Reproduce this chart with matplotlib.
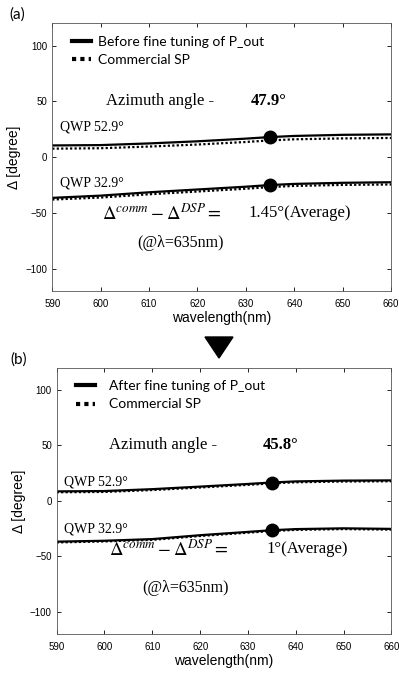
import numpy as np
import matplotlib
matplotlib.use("Agg")
import matplotlib.pyplot as plt
from matplotlib.patches import Polygon

plt.rcParams['mathtext.fontset'] = 'stix'

# wavelength samples (nm)
wl = [590, 600, 610, 620, 630, 635, 640, 650, 660]

# (a) before fine tuning
a_up_dsp = [10.5, 10.8, 12.3, 14.2, 16.6, 18.0, 19.0, 20.0, 20.4]
a_up_comm = [7.6, 8.0, 9.5, 11.3, 13.6, 15.0, 16.0, 16.8, 17.2]
a_lo_dsp = [-36.5, -34.5, -31.5, -29.0, -26.5, -25.0, -24.0, -23.0, -22.5]
a_lo_comm = [-38.0, -36.2, -33.3, -30.8, -28.3, -26.8, -25.8, -24.9, -24.5]

# (b) after fine tuning
b_up_dsp = [8.5, 8.8, 10.5, 12.8, 15.2, 16.5, 17.5, 18.2, 18.4]
b_up_comm = [7.7, 8.0, 9.7, 12.0, 14.4, 15.7, 16.7, 17.4, 17.6]
b_lo_dsp = [-36.8, -36.0, -34.5, -31.0, -28.0, -26.5, -25.5, -24.8, -25.3]
b_lo_comm = [-37.5, -36.6, -35.2, -31.7, -28.7, -27.2, -26.2, -25.5, -26.0]

mark_wl = 635
xticks = [590, 600, 610, 620, 630, 640, 650, 660]
yticks = [-100, -50, 0, 50, 100]

fig = plt.figure(figsize=(3.99, 6.73), dpi=100)
ax1 = fig.add_axes([0.131, 0.5676, 0.849, 0.3978])
ax2 = fig.add_axes([0.142, 0.058, 0.839, 0.3957])

dot = (0, (1, 1))
serif = 'Liberation Serif'


def panel(ax, up_dsp, up_comm, lo_dsp, lo_comm, leg_label, az, avg, ypos):
    mi = wl.index(mark_wl)
    ax.plot(wl, up_comm, color='black', lw=1.6, ls=dot)
    ax.plot(wl, lo_comm, color='black', lw=1.6, ls=dot)
    ax.plot(wl, up_dsp, color='black', lw=1.6)
    ax.plot(wl, lo_dsp, color='black', lw=1.6)
    ax.plot(wl[mi], up_dsp[mi], 'o', color='black', ms=9)
    ax.plot(wl[mi], lo_dsp[mi], 'o', color='black', ms=9)

    # legend handles
    h1, = ax.plot([], [], color='black', lw=3)
    h2, = ax.plot([], [], color='black', lw=3, ls=(0, (1, 1)))
    ax.legend([h1, h2], [leg_label, 'Commercial SP'], loc='upper left',
              bbox_to_anchor=ypos['leg'], frameon=False, handlelength=1.4,
              handletextpad=ypos['htp'], labelspacing=0.45,
              prop={'family': 'Lato', 'size': 10})

    ax.set_xlim(590, 660)
    ax.set_ylim(-120, 120)
    ax.set_xticks(xticks)
    ax.set_yticks(yticks)
    ax.tick_params(direction='in', top=True, right=True, length=3,
                   width=0.6, labelsize=7)
    ax.tick_params(axis='x', pad=6)
    ax.tick_params(axis='y', pad=3.5)
    for lab in ax.get_xticklabels() + ax.get_yticklabels():
        lab.set_family('Liberation Sans')
    for s in ax.spines.values():
        s.set_linewidth(0.6)
        s.set_color('#555555')
    ax.set_xlabel('wavelength(nm)', family='Liberation Sans', fontsize=10,
                  labelpad=1)
    ax.set_ylabel('Δ [degree]', family='Liberation Sans', fontsize=10,
                  labelpad=3)

    ax.text(ypos['az_x'], 50, 'Azimuth angle -', family=serif,
            fontsize=12, va='center')
    ax.text(ypos['azv_x'], 50, az, family=serif, fontsize=12,
            weight='bold', va='center')
    ax.text(591.5, ypos['q1'], 'QWP 52.9°', family=serif, fontsize=10,
            va='center')
    ax.text(591.5, ypos['q2'], 'QWP 32.9°', family=serif, fontsize=10,
            va='center')
    ax.text(ypos['d_x'], ypos['d'], r'$\Delta^{comm} - \Delta^{DSP} =$',
            fontsize=13.5, va='center')
    ax.text(ypos['avg_x'], ypos['d'] + 1, avg, family=serif, fontsize=12,
            va='center')
    ax.text(ypos['at_x'], ypos['at'], '(@λ=635nm)', family=serif,
            fontsize=11.5, va='center')


panel(ax1, a_up_dsp, a_up_comm, a_lo_dsp, a_lo_comm,
      'Before fine tuning of P_out', '47.9°', '1.45°(Average)',
      {'az_x': 601, 'azv_x': 631, 'q1': 27, 'q2': -23.5, 'd_x': 600.3,
       'd': -51, 'avg_x': 630.5, 'at_x': 607.5, 'at': -77,
       'leg': (0.02, 1.0), 'htp': 0.5})
panel(ax2, b_up_dsp, b_up_comm, b_lo_dsp, b_lo_comm,
      'After fine tuning of P_out', '45.8°', '1°(Average)',
      {'az_x': 601, 'azv_x': 633, 'q1': 17, 'q2': -25, 'd_x': 601,
       'd': -44, 'avg_x': 633.8, 'at_x': 608, 'at': -78.5,
       'leg': (0.02, 1.0), 'htp': 1.0})

fig.text(17 / 399, 1 - 15 / 673, '(a)', family='Lato', fontsize=11,
         ha='center', va='center')
fig.text(19 / 399, 1 - 360 / 673, '(b)', family='Lato', fontsize=11,
         ha='center', va='center')

# arrow between panels
W, H = 399.0, 673.0
tri = Polygon([(205 / W, 1 - 337 / H), (233 / W, 1 - 337 / H),
               (219 / W, 1 - 358 / H)], closed=True,
              transform=fig.transFigure, color='black')
fig.patches.append(tri)

fig.savefig('out.png', dpi=100)
